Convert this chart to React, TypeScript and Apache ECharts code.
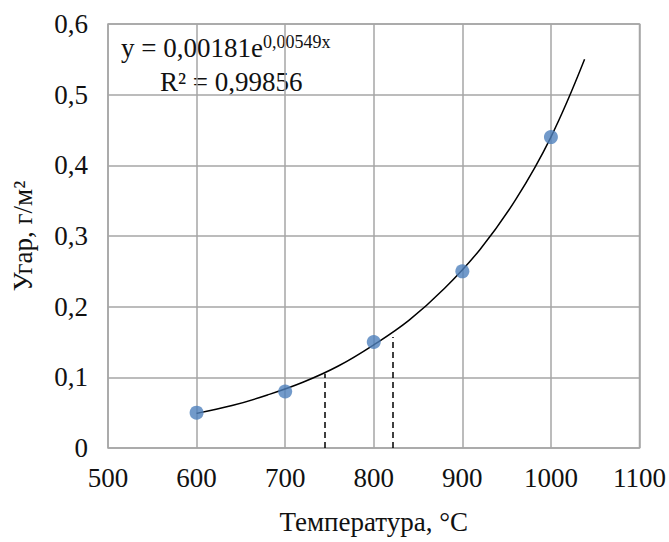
import React, { useEffect, useRef } from "react";
import * as echarts from "echarts";

const xTicks = [500, 600, 700, 800, 900, 1000, 1100];
const yTicks = [0, 0.1, 0.2, 0.3, 0.4, 0.5, 0.6];
const pointX = [600, 700, 800, 900, 1000];
const pointY = [0.05, 0.08, 0.15, 0.25, 0.44];
const trendX = [600, 640, 680, 720, 760, 800, 840, 880, 920, 960, 1000, 1038];
const trendY = [0.049, 0.06, 0.075, 0.093, 0.116, 0.146, 0.181, 0.226, 0.281, 0.351, 0.44, 0.55];
const dashX = [745, 822];
const dashTop = [0.105, 0.157];
const equationText = "y = 0,00181e";
const exponentText = "0,00549x";
const r2Text = "R² = 0,99856";
const xName = "Температура, °С";
const yName = "Угар, г/м²";

const FONT = "Liberation Serif";
const FS = 27;

export default function App() {
  const ref = useRef<HTMLDivElement>(null);
  useEffect(() => {
    if (!ref.current) return;
    const chart = echarts.init(ref.current, null, { renderer: "svg" });
    const fmt = (v: number) => String(Math.round(v * 10) / 10).replace(".", ",");
    chart.setOption({
      animation: false,
      backgroundColor: "#ffffff",
      grid: { left: 108, right: 26, top: 24, bottom: 94, show: true, borderColor: "#a6a6a6", borderWidth: 1.5 },
      xAxis: {
        type: "value",
        min: xTicks[0],
        max: xTicks[xTicks.length - 1],
        interval: 100,
        name: xName,
        nameLocation: "middle",
        nameGap: 60,
        nameTextStyle: { fontFamily: FONT, fontSize: FS, color: "#111" },
        axisLine: { show: false },
        axisTick: { show: false },
        axisLabel: { fontFamily: FONT, fontSize: FS, color: "#111", margin: 16, formatter: (v: number) => String(v) },
        splitLine: { show: true, lineStyle: { color: "#a6a6a6", width: 1.5 } },
      },
      yAxis: {
        type: "value",
        min: yTicks[0],
        max: yTicks[yTicks.length - 1],
        interval: 0.1,
        name: yName,
        nameLocation: "middle",
        nameGap: 72,
        nameTextStyle: { fontFamily: FONT, fontSize: FS, color: "#111" },
        axisLine: { show: false },
        axisTick: { show: false },
        axisLabel: { fontFamily: FONT, fontSize: FS, color: "#111", margin: 20, formatter: fmt },
        splitLine: { show: true, lineStyle: { color: "#a6a6a6", width: 1.5 } },
      },
      series: [
        {
          type: "line",
          data: trendX.map((x, i) => [x, trendY[i]]),
          smooth: 0.4,
          symbol: "none",
          lineStyle: { color: "#000", width: 1.5 },
          z: 3,
          markLine: {
            silent: true,
            symbol: "none",
            label: { show: false },
            lineStyle: { color: "#000", type: [6, 4], width: 1.5 },
            data: dashX.map((x, i) => [{ coord: [x, 0] }, { coord: [x, dashTop[i]] }]),
          },
        },
        {
          type: "scatter",
          data: pointX.map((x, i) => [x, pointY[i]]),
          symbolSize: 14,
          itemStyle: { color: "#4f81bd" },
          z: 4,
        },
      ],
      graphic: [
        {
          type: "text",
          left: 121,
          top: 33,
          style: {
            text: equationText + "{sup|" + exponentText + "}",
            fontFamily: FONT,
            fontSize: FS,
            fill: "#111",
            rich: { sup: { fontFamily: FONT, fontSize: 18, verticalAlign: "top", padding: [0, 0, 12, 0] } },
          },
        },
        {
          type: "text",
          left: 160,
          top: 68,
          style: { text: r2Text, fontFamily: FONT, fontSize: FS, fill: "#111" },
        },
      ],
    });
    return () => chart.dispose();
  }, []);
  return <div ref={ref} style={{ width: 669, height: 542, position: "absolute", left: 0, top: 0 }} />;
}
